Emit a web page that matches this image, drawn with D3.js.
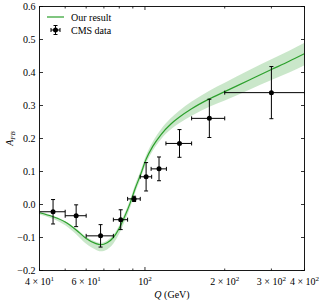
<!DOCTYPE html>
<html>
<head>
<meta charset="utf-8">
<script src="https://cdn.jsdelivr.net/npm/d3@7"></script>
<style>
  body { margin: 0; background: #fff; }
  text { font-family: "Liberation Serif", "DejaVu Serif", serif; font-size: 10px; fill: #000; }
</style>
</head>
<body>
<div id="chart"></div>
<script>
// Theory curve (Q in GeV) with its uncertainty band
const curveQ = [40, 45, 50, 55, 60, 65, 68, 72, 76, 80, 84, 88, 92, 96, 101, 107, 115, 125, 135, 150, 175, 200, 250, 300, 350, 400];
const curveA = [-0.025, -0.037, -0.053, -0.077, -0.103, -0.118, -0.122, -0.116, -0.100, -0.072, -0.035, 0.005, 0.050, 0.088, 0.137, 0.176, 0.212, 0.243, 0.265, 0.290, 0.320, 0.342, 0.379, 0.409, 0.434, 0.457];
const bandLow = [-0.030, -0.044, -0.063, -0.090, -0.119, -0.136, -0.142, -0.136, -0.118, -0.088, -0.049, -0.008, 0.038, 0.076, 0.125, 0.163, 0.198, 0.227, 0.247, 0.269, 0.296, 0.315, 0.349, 0.377, 0.400, 0.422];
const bandHigh = [-0.022, -0.034, -0.050, -0.073, -0.098, -0.112, -0.116, -0.109, -0.092, -0.063, -0.025, 0.016, 0.062, 0.100, 0.149, 0.190, 0.228, 0.261, 0.285, 0.312, 0.345, 0.369, 0.409, 0.440, 0.466, 0.490];

// CMS data points
const cmsQ = [45, 55, 68, 81, 91, 101, 113, 135, 175, 300];
const cmsQerr = [5, 5, 8, 5, 5, 5, 7.5, 15, 25, 100];
const cmsA = [-0.022, -0.034, -0.095, -0.046, 0.017, 0.084, 0.108, 0.185, 0.261, 0.339];
const cmsAerr = [0.037, 0.033, 0.034, 0.030, 0.008, 0.043, 0.036, 0.042, 0.058, 0.079];

// Axis ticks
const yTicks = [-0.2, -0.1, 0.0, 0.1, 0.2, 0.3, 0.4, 0.5, 0.6];
const xMajor = [100];
const xMinor = [40, 50, 60, 70, 80, 90, 200, 300, 400];
const xLabels = [
  { q: 40, m: "4 × 10", e: "1" },
  { q: 60, m: "6 × 10", e: "1" },
  { q: 100, m: "10", e: "2" },
  { q: 200, m: "2 × 10", e: "2" },
  { q: 300, m: "3 × 10", e: "2" },
  { q: 400, m: "4 × 10", e: "2" }
];

const W = 323, H = 300;
const margin = { top: 6.5, right: 18.5, bottom: 29.5, left: 39.5 };
const width = W - margin.left - margin.right,
      height = H - margin.top - margin.bottom;

const green = "#2ca02c";

const svg = d3.select("#chart").append("svg")
  .attr("width", W).attr("height", H);
const g = svg.append("g")
  .attr("transform", `translate(${margin.left},${margin.top})`);

const x = d3.scaleLog().domain([40, 400]).range([0, width]);
const y = d3.scaleLinear().domain([-0.2, 0.6]).range([height, 0]);

g.append("clipPath").attr("id", "clip")
  .append("rect").attr("width", width).attr("height", height);

const plot = g.append("g").attr("clip-path", "url(#clip)");

// band
const bandData = curveQ.map((q, i) => ({ q, lo: bandLow[i], hi: bandHigh[i] }));
plot.append("path")
  .datum(bandData)
  .attr("fill", green)
  .attr("fill-opacity", 0.25)
  .attr("d", d3.area()
    .x(d => x(d.q))
    .y0(d => y(d.lo))
    .y1(d => y(d.hi))
    .curve(d3.curveMonotoneX));

// theory line
plot.append("path")
  .datum(curveQ.map((q, i) => ({ q, a: curveA[i] })))
  .attr("fill", "none")
  .attr("stroke", green)
  .attr("stroke-width", 1.2)
  .attr("d", d3.line()
    .x(d => x(d.q))
    .y(d => y(d.a))
    .curve(d3.curveMonotoneX));

// CMS error bars
const cms = cmsQ.map((q, i) => ({ q, dq: cmsQerr[i], a: cmsA[i], da: cmsAerr[i] }));
const cap = 2;
const pts = plot.append("g").selectAll("g")
  .data(cms)
  .join("g")
  .attr("stroke", "#000")
  .attr("stroke-width", 1);

pts.append("line")
  .attr("x1", d => x(d.q - d.dq)).attr("x2", d => x(d.q + d.dq))
  .attr("y1", d => y(d.a)).attr("y2", d => y(d.a));
pts.append("line")
  .attr("x1", d => x(d.q)).attr("x2", d => x(d.q))
  .attr("y1", d => y(d.a - d.da)).attr("y2", d => y(d.a + d.da));
[-1, 1].forEach(s => {
  pts.append("line")
    .attr("x1", d => x(d.q) - cap).attr("x2", d => x(d.q) + cap)
    .attr("y1", d => y(d.a + s * d.da)).attr("y2", d => y(d.a + s * d.da));
  pts.append("line")
    .attr("x1", d => x(d.q + s * d.dq)).attr("x2", d => x(d.q + s * d.dq))
    .attr("y1", d => y(d.a) - cap).attr("y2", d => y(d.a) + cap);
});
pts.append("circle")
  .attr("cx", d => x(d.q)).attr("cy", d => y(d.a))
  .attr("r", 2.5).attr("fill", "#000").attr("stroke", "none");

// ticks (inward, all four sides)
const tickG = g.append("g").attr("stroke", "#000").attr("stroke-width", 0.8);
yTicks.forEach(v => {
  tickG.append("line").attr("x1", 0).attr("x2", 3.5).attr("y1", y(v)).attr("y2", y(v));
  tickG.append("line").attr("x1", width).attr("x2", width - 3.5).attr("y1", y(v)).attr("y2", y(v));
});
xMajor.forEach(v => {
  tickG.append("line").attr("x1", x(v)).attr("x2", x(v)).attr("y1", height).attr("y2", height - 3.5);
  tickG.append("line").attr("x1", x(v)).attr("x2", x(v)).attr("y1", 0).attr("y2", 3.5);
});
xMinor.forEach(v => {
  tickG.append("line").attr("x1", x(v)).attr("x2", x(v)).attr("y1", height).attr("y2", height - 2);
  tickG.append("line").attr("x1", x(v)).attr("x2", x(v)).attr("y1", 0).attr("y2", 2);
});

// frame
g.append("rect")
  .attr("width", width).attr("height", height)
  .attr("fill", "none").attr("stroke", "#000").attr("stroke-width", 0.9);

// y tick labels
const fmt = d3.format(".1f");
g.append("g").selectAll("text")
  .data(yTicks)
  .join("text")
  .attr("x", -4)
  .attr("y", d => y(d) + 3.5)
  .attr("text-anchor", "end")
  .text(d => fmt(d).replace("-", "−"));

// x tick labels
const xl = g.append("g").selectAll("text")
  .data(xLabels)
  .join("text")
  .attr("x", d => x(d.q))
  .attr("y", height + 14.5)
  .attr("text-anchor", "middle");
xl.append("tspan").text(d => d.m);
xl.append("tspan").attr("dy", -4).attr("font-size", "7px").text(d => d.e);

// axis titles
const xt = g.append("text")
  .attr("x", width / 2)
  .attr("y", height + 27)
  .attr("text-anchor", "middle");
xt.append("tspan").attr("font-style", "italic").text("Q");
xt.append("tspan").text(" (GeV)");

const yt = g.append("text")
  .attr("transform", `translate(${-27},${height / 2}) rotate(-90)`)
  .attr("text-anchor", "middle");
yt.append("tspan").attr("font-style", "italic").text("A");
yt.append("tspan").attr("font-style", "italic").attr("font-size", "7px").attr("dy", 2).text("FB");

// legend
const lg = svg.append("g");
lg.append("line")
  .attr("x1", 47).attr("x2", 64).attr("y1", 17).attr("y2", 17)
  .attr("stroke", green).attr("stroke-width", 1.2);
lg.append("text").attr("x", 71).attr("y", 20.5).text("Our result");
const lm = lg.append("g").attr("stroke", "#000").attr("stroke-width", 1);
lm.append("line").attr("x1", 51).attr("x2", 60).attr("y1", 30).attr("y2", 30);
lm.append("line").attr("x1", 55.5).attr("x2", 55.5).attr("y1", 25.5).attr("y2", 34.5);
lm.append("line").attr("x1", 53.5).attr("x2", 57.5).attr("y1", 25.5).attr("y2", 25.5);
lm.append("line").attr("x1", 53.5).attr("x2", 57.5).attr("y1", 34.5).attr("y2", 34.5);
lm.append("line").attr("x1", 51).attr("x2", 51).attr("y1", 28).attr("y2", 32);
lm.append("line").attr("x1", 60).attr("x2", 60).attr("y1", 28).attr("y2", 32);
lm.append("circle").attr("cx", 55.5).attr("cy", 30).attr("r", 2.5).attr("fill", "#000").attr("stroke", "none");
lg.append("text").attr("x", 71).attr("y", 33.5).text("CMS data");
</script>
</body>
</html>
